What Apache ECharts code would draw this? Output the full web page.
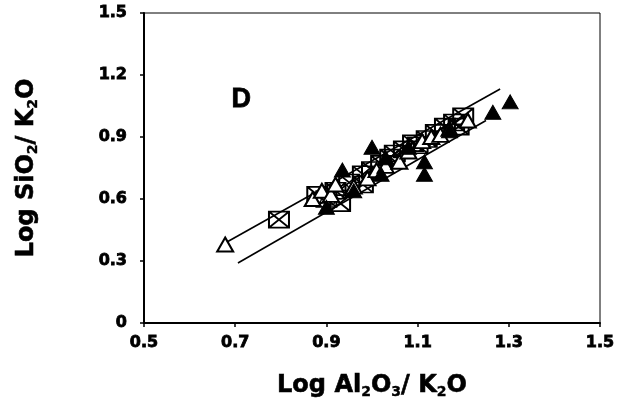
<!DOCTYPE html>
<html>
<head>
<meta charset="utf-8">
<script src="https://cdn.jsdelivr.net/npm/echarts@6/dist/echarts.min.js"></script>
<style>html,body{margin:0;padding:0;background:#fff}#c{width:623px;height:408px}</style>
</head>
<body>
<div id="c"></div>
<script>
// Data
var xTicks = [0.5, 0.7, 0.9, 1.1, 1.3, 1.5];
var yTicks = [0, 0.3, 0.6, 0.9, 1.2, 1.5];
var squaresX = [[0.796,0.50],[0.88,0.62],[0.90,0.60],[0.92,0.64],[0.93,0.58],[0.95,0.68],[0.98,0.67],[0.98,0.72],[1.00,0.74],[1.02,0.77],[1.04,0.80],[1.05,0.82],[1.07,0.84],[1.09,0.87],[1.10,0.86],[1.12,0.89],[1.14,0.92],[1.16,0.95],[1.18,0.97],[1.20,1.00],[1.19,0.95]];
var openTri = [[0.678,0.38],[0.87,0.60],[0.89,0.64],[0.91,0.62],[0.92,0.67],[0.96,0.66],[0.99,0.70],[1.01,0.74],[1.03,0.76],[1.06,0.78],[1.08,0.83],[1.11,0.88],[1.13,0.90],[1.15,0.91],[1.17,0.94],[1.21,0.98]];
var filledTri = [[1.303,1.07],[1.265,1.02],[1.115,0.78],[1.115,0.72],[1.00,0.85],[0.935,0.74],[0.90,0.56],[0.96,0.64],[1.03,0.80],[1.08,0.85],[1.17,0.93],[1.02,0.72]];
var circles = [[0.88,0.60],[0.90,0.63],[0.91,0.59],[0.93,0.62],[0.94,0.65],[1.00,0.72],[1.05,0.79],[1.10,0.85],[1.12,0.87],[1.15,0.90]];
var upperLine = [[0.678,0.387],[1.281,1.132]];
var lowerLine = [[0.706,0.29],[1.25,0.98]];
var panelLabel = 'D';

var chart = echarts.init(document.getElementById('c'), null, {renderer:'canvas'});
var F = 'DejaVu Sans';
var fmt1 = function(v){ return Math.abs(v) < 1e-9 ? '0' : v.toFixed(1); };
var rich = {
  t:{fontFamily:F,fontWeight:'bold',fontSize:24,color:'#000',textBorderColor:'#000',textBorderWidth:0.6},
  s:{fontFamily:F,fontWeight:'bold',fontSize:14,color:'#000',textBorderColor:'#000',textBorderWidth:0.4,verticalAlign:'bottom',padding:[12,0,0,0]}
};
var lbl = {formatter:fmt1,fontFamily:F,fontWeight:'bold',fontSize:16,color:'#000',textBorderColor:'#000',textBorderWidth:0.8};
chart.setOption({
  animation:false,
  backgroundColor:'#fff',
  grid:{left:144,right:23,top:13,bottom:85,show:true,borderColor:'#000',borderWidth:1,backgroundColor:'transparent'},
  xAxis:{type:'value',min:xTicks[0],max:xTicks[xTicks.length-1],interval:0.2,
    splitLine:{show:false},
    axisLine:{lineStyle:{color:'#000',width:2}},
    axisTick:{show:true,inside:false,length:4,lineStyle:{color:'#000',width:1.5}},
    axisLabel:Object.assign({margin:12},lbl),
    name:'{t|Log Al}{s|2}{t|O}{s|3}{t|/ K}{s|2}{t|O}',nameLocation:'middle',nameGap:50,
    nameTextStyle:{rich:rich}},
  yAxis:{type:'value',min:yTicks[0],max:yTicks[yTicks.length-1],interval:0.3,
    splitLine:{show:false},
    axisLine:{lineStyle:{color:'#000',width:2}},
    axisTick:{show:true,inside:false,length:4,lineStyle:{color:'#000',width:1.5}},
    axisLabel:Object.assign({margin:17},lbl),
    name:'{t|Log SiO}{s|2}{t|/ K}{s|2}{t|O}',nameLocation:'middle',nameGap:104,nameRotate:90,
    nameTextStyle:{rich:rich}},
  graphic:[{type:'text',left:231,top:86,style:{text:panelLabel,fontFamily:'Liberation Sans',fontWeight:'bold',fontSize:27,fill:'#000',stroke:'#000',lineWidth:0.8}}],
  series:[
    {type:'line',data:upperLine,showSymbol:false,symbol:'none',lineStyle:{color:'#000',width:1.6},z:1},
    {type:'line',data:lowerLine,showSymbol:false,symbol:'none',lineStyle:{color:'#000',width:1.6},z:1},
    {type:'scatter',data:circles,symbol:'circle',symbolSize:8,itemStyle:{color:'#fff',borderColor:'#000',borderWidth:1.5,opacity:1},z:2},
    {type:'scatter',data:squaresX,symbol:'path://M0,0L20,0L20,16L0,16Z M0,0L20,16 M20,0L0,16',symbolSize:[20,16],itemStyle:{color:'rgba(255,255,255,0)',borderColor:'#000',borderWidth:1.8,opacity:1},z:3},
    {type:'scatter',data:openTri,symbol:'triangle',symbolSize:[16,14],itemStyle:{color:'#fff',borderColor:'#000',borderWidth:2,opacity:1},z:4},
    {type:'scatter',data:filledTri,symbol:'triangle',symbolSize:[16,14],itemStyle:{color:'#000',borderColor:'#000',borderWidth:1,opacity:1},z:5}
  ]
});
</script>
</body>
</html>
